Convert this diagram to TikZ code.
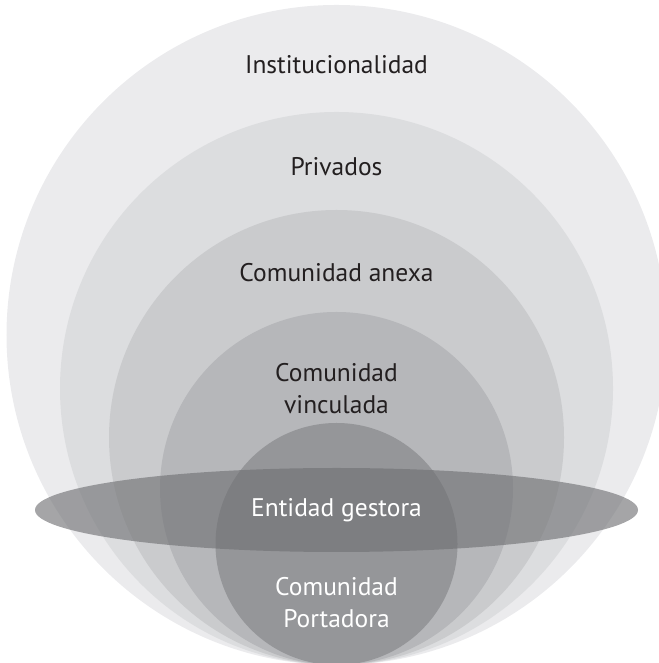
\documentclass[tikz,border=0pt]{standalone}
\usepackage{fontspec}
\setmainfont{PT Sans}
\usepackage{xcolor}
\usepackage{tikz}

\definecolor{ringA}{RGB}{235,235,237}
\definecolor{ringB}{RGB}{220,221,223}
\definecolor{ringC}{RGB}{202,203,205}
\definecolor{ringD}{RGB}{182,183,186}
\definecolor{coreGray}{RGB}{149,150,153}
\definecolor{bandGray}{RGB}{112,113,116}
\definecolor{textDark}{RGB}{35,31,32}

\tikzstyle{darktext} = [font=\fontsize{14.5}{18.2}\selectfont, text=textDark, align=center]
\tikzstyle{whitetext} = [darktext, text=white]

\begin{document}
\begin{tikzpicture}
\useasboundingbox (0,0) rectangle (13.16,13.26);

% Rings, all touching at the bottom
\fill[ringA] (6.73,6.56) circle (6.6);
\fill[ringB] (6.73,5.49) circle (5.53);
\fill[ringC] (6.73,4.51) circle (4.55);
\fill[ringD] (6.73,3.49) circle (3.53);
\fill[coreGray] (6.73,2.38) circle (2.42);

% Band across the core
\fill[bandGray, opacity=0.63] (6.73,3.06) ellipse (6.03 and 0.84);

% Labels
\node[darktext] (inst) at (6.73,11.96) {Institucionalidad};
\node[darktext] (priv) at (6.73,9.92) {Privados};
\node[darktext] (anexa) at (6.73,7.80) {Comunidad anexa};
\node[darktext] (vinc) at (6.73,5.48) {Comunidad\\vinculada};
\node[whitetext] (gest) at (6.73,3.06) {Entidad gestora};
\node[whitetext] (port) at (6.73,1.21) {Comunidad\\Portadora};
\end{tikzpicture}
\end{document}
